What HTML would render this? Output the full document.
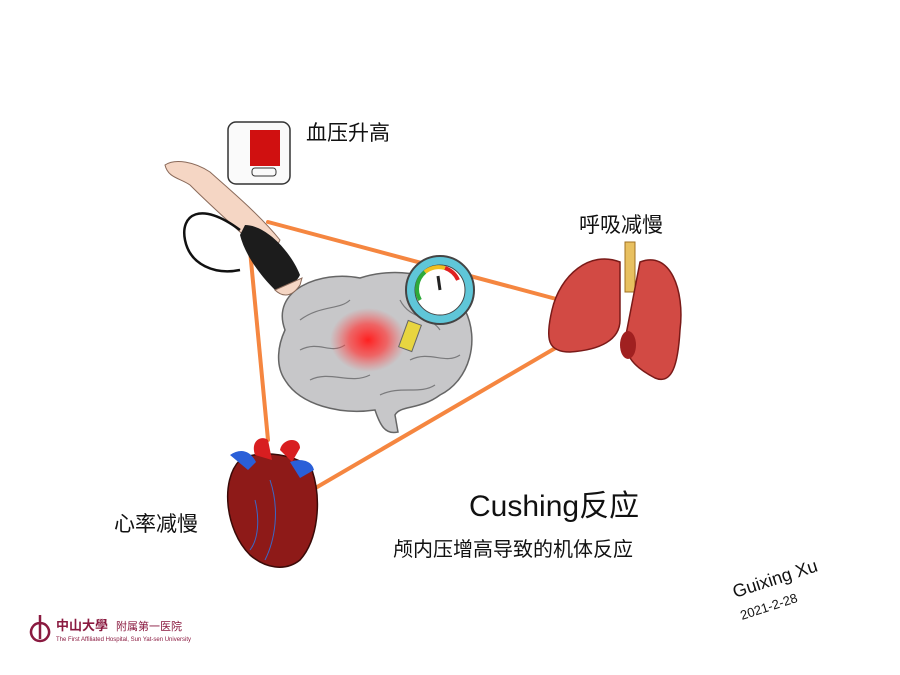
<!DOCTYPE html>
<html><head><meta charset="utf-8"><style>
html,body{margin:0;padding:0;background:#fff;width:900px;height:675px;overflow:hidden}
svg{display:block}
.hw{font-family:"Liberation Sans","Noto Sans CJK SC",sans-serif;fill:#111}
</style></head><body>
<svg width="900" height="675" viewBox="0 0 900 675" xmlns="http://www.w3.org/2000/svg">
<defs>
<radialGradient id="glow" cx="50%" cy="50%" r="50%">
<stop offset="0" stop-color="#ff2020" stop-opacity="1"/>
<stop offset="0.5" stop-color="#ff3a3a" stop-opacity="0.7"/>
<stop offset="1" stop-color="#ff5050" stop-opacity="0"/>
</radialGradient>
</defs>
<!-- triangle lines -->
<g stroke="#f58640" stroke-width="4" stroke-linecap="round" fill="none">
<line x1="268" y1="222" x2="560" y2="300"/>
<line x1="250" y1="250" x2="268" y2="440"/>
<line x1="312" y1="490" x2="600" y2="322"/>
</g>
<!-- brain -->
<path d="M285,330 C270,290 320,270 360,278 C400,265 450,275 465,310 C480,340 470,380 440,395 C420,410 400,405 395,415 L398,432 C385,435 380,425 375,410 C340,415 300,405 285,380 C275,365 278,345 285,330 Z" fill="#c7c7c9" stroke="#666" stroke-width="1.5"/>
<g stroke="#7a7a7c" stroke-width="1.2" fill="none">
<path d="M300,320 C320,305 340,310 350,300"/><path d="M300,350 C320,340 330,355 345,345"/>
<path d="M310,380 C330,370 350,385 370,375"/><path d="M400,300 C410,320 430,315 440,330"/>
<path d="M410,360 C430,350 445,365 460,355"/><path d="M380,395 C400,385 420,395 435,385"/>
</g>
<ellipse cx="368" cy="340" rx="38" ry="32" fill="url(#glow)"/>
<!-- gauge -->
<rect x="403" y="322" width="14" height="28" fill="#e8d540" stroke="#666" transform="rotate(20 410 336)"/>
<circle cx="440" cy="290" r="34" fill="#5fc6d8" stroke="#444" stroke-width="2"/>
<circle cx="440" cy="290" r="25" fill="#fff" stroke="#444"/>
<path d="M420,300 A22,22 0 0 1 425,272" stroke="#2eaa3a" stroke-width="4" fill="none"/>
<path d="M425,272 A22,22 0 0 1 445,268" stroke="#f0c020" stroke-width="4" fill="none"/>
<path d="M445,268 A22,22 0 0 1 458,280" stroke="#e02020" stroke-width="4" fill="none"/>
<line x1="440" y1="290" x2="438" y2="276" stroke="#222" stroke-width="3"/>
<!-- lungs -->
<rect x="625" y="242" width="10" height="50" fill="#e8c060" stroke="#a07020"/>
<path d="M620,262 C590,250 560,275 552,310 C545,340 548,352 570,352 C600,350 620,340 620,320 Z" fill="#d24a44" stroke="#7a1a18" stroke-width="1.5"/>
<path d="M640,262 C670,250 685,290 680,330 C678,365 672,385 655,378 C640,370 625,360 625,340 Z" fill="#d24a44" stroke="#7a1a18" stroke-width="1.5"/>
<ellipse cx="628" cy="345" rx="8" ry="14" fill="#a02020"/>
<!-- heart -->
<path d="M240,460 C220,480 225,530 250,555 C265,568 285,572 300,560 C318,540 322,500 312,470 C300,455 260,448 240,460 Z" fill="#8e1a18" stroke="#3a0a08" stroke-width="1.5"/>
<path d="M255,455 C250,440 262,435 268,440 L272,460 Z M280,450 C282,438 300,436 300,448 L292,462 Z" fill="#d81e20"/>
<path d="M230,455 C240,448 250,450 256,462 L248,470 Z M290,462 C300,458 312,460 314,470 L300,478 Z" fill="#2a5fd8"/>
<g stroke="#3a68c8" stroke-width="1" fill="none"><path d="M270,480 C280,510 275,540 265,560"/><path d="M255,500 C260,520 258,540 250,550"/></g>
<!-- arm & cuff -->
<path d="M165,165 C175,158 195,162 210,172 C230,190 260,215 280,240 L270,260 C250,240 220,215 190,185 C180,178 168,178 165,165 Z" fill="#f5d6c4" stroke="#8a6a5a"/>
<path d="M245,225 C265,225 290,250 300,275 C295,285 285,290 275,290 C260,275 245,255 240,235 Z" fill="#1c1c1c"/>
<path d="M275,290 C280,295 290,300 300,285 L302,278 Z" fill="#f5d6c4" stroke="#8a6a5a"/>
<path d="M240,230 C200,200 180,215 185,240 C190,265 215,275 240,270" stroke="#111" stroke-width="2.5" fill="none"/>
<!-- BP monitor -->
<rect x="228" y="122" width="62" height="62" rx="8" fill="#fafafa" stroke="#333" stroke-width="1.5"/>
<rect x="250" y="130" width="30" height="36" fill="#d01010"/>
<rect x="252" y="168" width="24" height="8" rx="3" fill="none" stroke="#333"/>
<!-- labels -->
<text class="hw" x="306" y="140" font-size="21">血压升高</text>
<text class="hw" x="579" y="232" font-size="21">呼吸减慢</text>
<text class="hw" x="114" y="531" font-size="21">心率减慢</text>
<text class="hw" x="469" y="516" font-size="30">Cushing反应</text>
<text class="hw" x="393" y="556" font-size="20">颅内压增高导致的机体反应</text>
<text class="hw" x="735" y="598" font-size="18" transform="rotate(-18 735 598)">Guixing Xu</text>
<text class="hw" x="742" y="620" font-size="13" transform="rotate(-18 742 620)">2021-2-28</text>
<!-- logo -->
<path d="M40,623 a9,9 0 1 0 0.1,0 M40,615 v24" stroke="#8a1a40" stroke-width="2.5" fill="none"/>
<text x="56" y="630" font-size="13" font-weight="bold" fill="#8a1a40" font-family="Liberation Sans,Noto Sans CJK TC,sans-serif">中山大學</text>
<text x="116" y="630" font-size="11" fill="#8a1a40" font-family="Liberation Sans,Noto Sans CJK SC,sans-serif">附属第一医院</text>
<text x="56" y="641" font-size="6" fill="#8a1a40" font-family="Liberation Sans,sans-serif">The First Affiliated Hospital, Sun Yat-sen University</text>
</svg>
</body></html>
